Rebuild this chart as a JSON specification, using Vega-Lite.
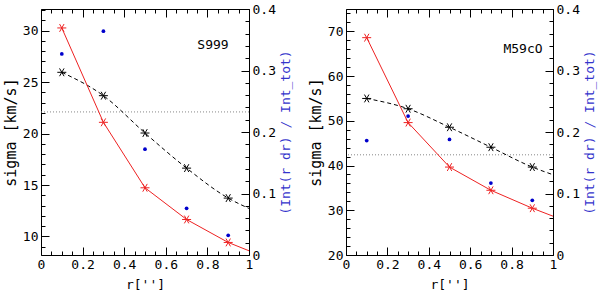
{
  "$schema": "https://vega.github.io/schema/vega-lite/v6.json",
  "padding": {"top": 2, "left": 2, "right": 5, "bottom": 2},
  "spacing": 14,
  "config": {
    "view": {"stroke": "black", "strokeWidth": 1},
    "axis": {
      "labelFont": "DejaVu Sans Mono", "titleFont": "DejaVu Sans Mono",
      "labelFontSize": 13, "titleFontSize": 13, "titleFontWeight": "normal",
      "grid": false, "domain": false, "tickColor": "black", "labelColor": "black",
      "titleColor": "black", "labelFlush": false, "labelOverlap": false, "tickWidth": 1
    }
  },
  "datasets": {
    "s999_sigma": [
      {"r": 0.1, "series": "red", "sigma": 30.26},
      {"r": 0.3, "series": "red", "sigma": 21.09},
      {"r": 0.5, "series": "red", "sigma": 14.73},
      {"r": 0.7, "series": "red", "sigma": 11.65},
      {"r": 0.9, "series": "red", "sigma": 9.42},
      {"r": 1.0, "series": "red", "sigma": 8.61},
      {"r": 0.1, "series": "black", "sigma": 25.95},
      {"r": 0.3, "series": "black", "sigma": 23.68},
      {"r": 0.5, "series": "black", "sigma": 20.05},
      {"r": 0.7, "series": "black", "sigma": 16.64},
      {"r": 0.9, "series": "black", "sigma": 13.73},
      {"r": 1.0, "series": "black", "sigma": 12.72}
    ],
    "s999_frac": [
      {"r": 0.1, "frac": 0.327},
      {"r": 0.3, "frac": 0.364},
      {"r": 0.5, "frac": 0.172},
      {"r": 0.7, "frac": 0.076},
      {"r": 0.9, "frac": 0.032}
    ],
    "s999_level": [{"sigma": 22.1}],
    "s999_label": [{"name": "S999"}],
    "m59_sigma": [
      {"r": 0.1, "series": "red", "sigma": 68.59},
      {"r": 0.3, "series": "red", "sigma": 49.6},
      {"r": 0.5, "series": "red", "sigma": 39.66},
      {"r": 0.7, "series": "red", "sigma": 34.47},
      {"r": 0.9, "series": "red", "sigma": 30.46},
      {"r": 1.0, "series": "red", "sigma": 28.68},
      {"r": 0.1, "series": "black", "sigma": 55.0},
      {"r": 0.3, "series": "black", "sigma": 52.7},
      {"r": 0.5, "series": "black", "sigma": 48.56},
      {"r": 0.7, "series": "black", "sigma": 44.1},
      {"r": 0.9, "series": "black", "sigma": 39.66},
      {"r": 1.0, "series": "black", "sigma": 37.95}
    ],
    "m59_frac": [
      {"r": 0.1, "frac": 0.186},
      {"r": 0.3, "frac": 0.226},
      {"r": 0.5, "frac": 0.188},
      {"r": 0.7, "frac": 0.117},
      {"r": 0.9, "frac": 0.089}
    ],
    "m59_level": [{"sigma": 42.4}],
    "m59_label": [{"name": "M59cO"}]
  },
  "hconcat": [
    {
      "width": 208, "height": 246,
      "resolve": {"scale": {"y": "independent"}, "axis": {"x": "independent", "y": "independent"}},
      "layer": [
        {
          "data": {"name": "s999_level"},
          "mark": {"type": "rule", "color": "#888888", "strokeDash": [1, 2], "strokeWidth": 1},
          "encoding": {
            "y": {"field": "sigma", "type": "quantitative", "scale": {"domain": [8.2, 32.1], "nice": false, "zero": false},
              "axis": {"orient": "left", "values": [9,11,12,13,14,16,17,18,19,21,22,23,24,26,27,28,29,31,32], "tickSize": -4, "labels": false, "title": null}}
          }
        },
        {
          "data": {"name": "s999_sigma"},
          "transform": [{"filter": "datum.series == 'black'"}],
          "mark": {"type": "line", "color": "black", "strokeDash": [4, 3], "strokeWidth": 1, "interpolate": "monotone"},
          "encoding": {
            "x": {"field": "r", "type": "quantitative", "scale": {"domain": [0, 1], "nice": false, "zero": false},
              "axis": {"orient": "bottom", "values": [0, 0.2, 0.4, 0.6, 0.8, 1], "format": "~g", "tickSize": -8, "labelPadding": 11, "title": "r['']", "titlePadding": 7}},
            "y": {"field": "sigma", "type": "quantitative", "scale": {"domain": [8.2, 32.1], "nice": false, "zero": false},
              "axis": {"orient": "left", "values": [10, 15, 20, 25, 30], "tickSize": -8, "labelPadding": 11, "title": "sigma [km/s]", "titleFontSize": 15, "titlePadding": 4}}
          }
        },
        {
          "data": {"name": "s999_sigma"},
          "transform": [{"filter": "datum.series == 'black' && datum.r < 1"}],
          "mark": {"type": "point", "shape": "M-1,0L1,0M-0.5,-0.866L0.5,0.866M-0.5,0.866L0.5,-0.866", "filled": false, "size": 81, "strokeWidth": 1, "color": "black", "opacity": 1},
          "encoding": {
            "x": {"field": "r", "type": "quantitative", "scale": {"domain": [0, 1], "nice": false, "zero": false},
              "axis": {"orient": "top", "values": [0, 0.2, 0.4, 0.6, 0.8, 1], "tickSize": -8, "labels": false, "title": null}},
            "y": {"field": "sigma", "type": "quantitative", "scale": {"domain": [8.2, 32.1], "nice": false, "zero": false}, "axis": null}
          }
        },
        {
          "data": {"name": "s999_sigma"},
          "transform": [{"filter": "datum.series == 'red'"}],
          "mark": {"type": "line", "color": "#ee2222", "strokeWidth": 1},
          "encoding": {
            "x": {"field": "r", "type": "quantitative", "scale": {"domain": [0, 1], "nice": false, "zero": false},
              "axis": {"orient": "bottom", "values": [0.05,0.1,0.15,0.25,0.3,0.35,0.45,0.5,0.55,0.65,0.7,0.75,0.85,0.9,0.95], "tickSize": -4, "labels": false, "title": null}},
            "y": {"field": "sigma", "type": "quantitative", "scale": {"domain": [8.2, 32.1], "nice": false, "zero": false}, "axis": null}
          }
        },
        {
          "data": {"name": "s999_sigma"},
          "transform": [{"filter": "datum.series == 'red' && datum.r < 1"}],
          "mark": {"type": "point", "shape": "M-1,0L1,0M-0.5,-0.866L0.5,0.866M-0.5,0.866L0.5,-0.866", "filled": false, "size": 81, "strokeWidth": 1, "color": "#ee2222", "opacity": 1},
          "encoding": {
            "x": {"field": "r", "type": "quantitative", "scale": {"domain": [0, 1], "nice": false, "zero": false},
              "axis": {"orient": "top", "values": [0.05,0.1,0.15,0.25,0.3,0.35,0.45,0.5,0.55,0.65,0.7,0.75,0.85,0.9,0.95], "tickSize": -4, "labels": false, "title": null}},
            "y": {"field": "sigma", "type": "quantitative", "scale": {"domain": [8.2, 32.1], "nice": false, "zero": false}, "axis": null}
          }
        },
        {
          "data": {"name": "s999_frac"},
          "mark": {"type": "circle", "color": "#0000cc", "size": 14, "opacity": 1},
          "encoding": {
            "x": {"field": "r", "type": "quantitative", "scale": {"domain": [0, 1], "nice": false, "zero": false}, "axis": null},
            "y": {"field": "frac", "type": "quantitative", "scale": {"domain": [0, 0.4], "nice": false, "zero": false},
              "axis": {"orient": "right", "values": [0, 0.1, 0.2, 0.3, 0.4], "format": "~g", "tickSize": -8, "labelPadding": 11, "title": "(Int(r dr) / Int_tot)", "titleColor": "#3333cc", "titleAngle": 270, "titlePadding": 17}}
          }
        },
        {
          "data": {"name": "s999_label"},
          "mark": {"type": "text", "font": "DejaVu Sans Mono", "fontSize": 13, "fontWeight": "normal", "align": "center", "baseline": "middle", "color": "black"},
          "encoding": {
            "text": {"field": "name"},
            "x": {"datum": 0.827, "type": "quantitative", "scale": {"domain": [0, 1], "nice": false, "zero": false}, "axis": null},
            "y": {"datum": 0.341, "type": "quantitative", "scale": {"domain": [0, 0.4], "nice": false, "zero": false},
              "axis": {"orient": "right", "values": [0.02,0.04,0.06,0.08,0.12,0.14,0.16,0.18,0.22,0.24,0.26,0.28,0.32,0.34,0.36,0.38], "tickSize": -4, "labels": false, "title": null}}
          }
        }
      ]
    },
    {
      "width": 207, "height": 246,
      "resolve": {"scale": {"y": "independent"}, "axis": {"x": "independent", "y": "independent"}},
      "layer": [
        {
          "data": {"name": "m59_level"},
          "mark": {"type": "rule", "color": "#888888", "strokeDash": [1, 2], "strokeWidth": 1},
          "encoding": {
            "y": {"field": "sigma", "type": "quantitative", "scale": {"domain": [20, 75], "nice": false, "zero": false},
              "axis": {"orient": "left", "values": [22,24,26,28,32,34,36,38,42,44,46,48,52,54,56,58,62,64,66,68,72,74], "tickSize": -4, "labels": false, "title": null}}
          }
        },
        {
          "data": {"name": "m59_sigma"},
          "transform": [{"filter": "datum.series == 'black'"}],
          "mark": {"type": "line", "color": "black", "strokeDash": [4, 3], "strokeWidth": 1, "interpolate": "monotone"},
          "encoding": {
            "x": {"field": "r", "type": "quantitative", "scale": {"domain": [0, 1], "nice": false, "zero": false},
              "axis": {"orient": "bottom", "values": [0, 0.2, 0.4, 0.6, 0.8, 1], "format": "~g", "tickSize": -8, "labelPadding": 11, "title": "r['']", "titlePadding": 7}},
            "y": {"field": "sigma", "type": "quantitative", "scale": {"domain": [20, 75], "nice": false, "zero": false},
              "axis": {"orient": "left", "values": [20, 30, 40, 50, 60, 70], "tickSize": -8, "labelPadding": 11, "title": "sigma [km/s]", "titleFontSize": 15, "titlePadding": 4}}
          }
        },
        {
          "data": {"name": "m59_sigma"},
          "transform": [{"filter": "datum.series == 'black' && datum.r < 1"}],
          "mark": {"type": "point", "shape": "M-1,0L1,0M-0.5,-0.866L0.5,0.866M-0.5,0.866L0.5,-0.866", "filled": false, "size": 81, "strokeWidth": 1, "color": "black", "opacity": 1},
          "encoding": {
            "x": {"field": "r", "type": "quantitative", "scale": {"domain": [0, 1], "nice": false, "zero": false},
              "axis": {"orient": "top", "values": [0, 0.2, 0.4, 0.6, 0.8, 1], "tickSize": -8, "labels": false, "title": null}},
            "y": {"field": "sigma", "type": "quantitative", "scale": {"domain": [20, 75], "nice": false, "zero": false}, "axis": null}
          }
        },
        {
          "data": {"name": "m59_sigma"},
          "transform": [{"filter": "datum.series == 'red'"}],
          "mark": {"type": "line", "color": "#ee2222", "strokeWidth": 1},
          "encoding": {
            "x": {"field": "r", "type": "quantitative", "scale": {"domain": [0, 1], "nice": false, "zero": false},
              "axis": {"orient": "bottom", "values": [0.05,0.1,0.15,0.25,0.3,0.35,0.45,0.5,0.55,0.65,0.7,0.75,0.85,0.9,0.95], "tickSize": -4, "labels": false, "title": null}},
            "y": {"field": "sigma", "type": "quantitative", "scale": {"domain": [20, 75], "nice": false, "zero": false}, "axis": null}
          }
        },
        {
          "data": {"name": "m59_sigma"},
          "transform": [{"filter": "datum.series == 'red' && datum.r < 1"}],
          "mark": {"type": "point", "shape": "M-1,0L1,0M-0.5,-0.866L0.5,0.866M-0.5,0.866L0.5,-0.866", "filled": false, "size": 81, "strokeWidth": 1, "color": "#ee2222", "opacity": 1},
          "encoding": {
            "x": {"field": "r", "type": "quantitative", "scale": {"domain": [0, 1], "nice": false, "zero": false},
              "axis": {"orient": "top", "values": [0.05,0.1,0.15,0.25,0.3,0.35,0.45,0.5,0.55,0.65,0.7,0.75,0.85,0.9,0.95], "tickSize": -4, "labels": false, "title": null}},
            "y": {"field": "sigma", "type": "quantitative", "scale": {"domain": [20, 75], "nice": false, "zero": false}, "axis": null}
          }
        },
        {
          "data": {"name": "m59_frac"},
          "mark": {"type": "circle", "color": "#0000cc", "size": 14, "opacity": 1},
          "encoding": {
            "x": {"field": "r", "type": "quantitative", "scale": {"domain": [0, 1], "nice": false, "zero": false}, "axis": null},
            "y": {"field": "frac", "type": "quantitative", "scale": {"domain": [0, 0.4], "nice": false, "zero": false},
              "axis": {"orient": "right", "values": [0, 0.1, 0.2, 0.3, 0.4], "format": "~g", "tickSize": -8, "labelPadding": 11, "title": "(Int(r dr) / Int_tot)", "titleColor": "#3333cc", "titleAngle": 270, "titlePadding": 17}}
          }
        },
        {
          "data": {"name": "m59_label"},
          "mark": {"type": "text", "font": "DejaVu Sans Mono", "fontSize": 13, "fontWeight": "normal", "align": "center", "baseline": "middle", "color": "black"},
          "encoding": {
            "text": {"field": "name"},
            "x": {"datum": 0.855, "type": "quantitative", "scale": {"domain": [0, 1], "nice": false, "zero": false}, "axis": null},
            "y": {"datum": 0.335, "type": "quantitative", "scale": {"domain": [0, 0.4], "nice": false, "zero": false},
              "axis": {"orient": "right", "values": [0.02,0.04,0.06,0.08,0.12,0.14,0.16,0.18,0.22,0.24,0.26,0.28,0.32,0.34,0.36,0.38], "tickSize": -4, "labels": false, "title": null}}
          }
        }
      ]
    }
  ]
}
